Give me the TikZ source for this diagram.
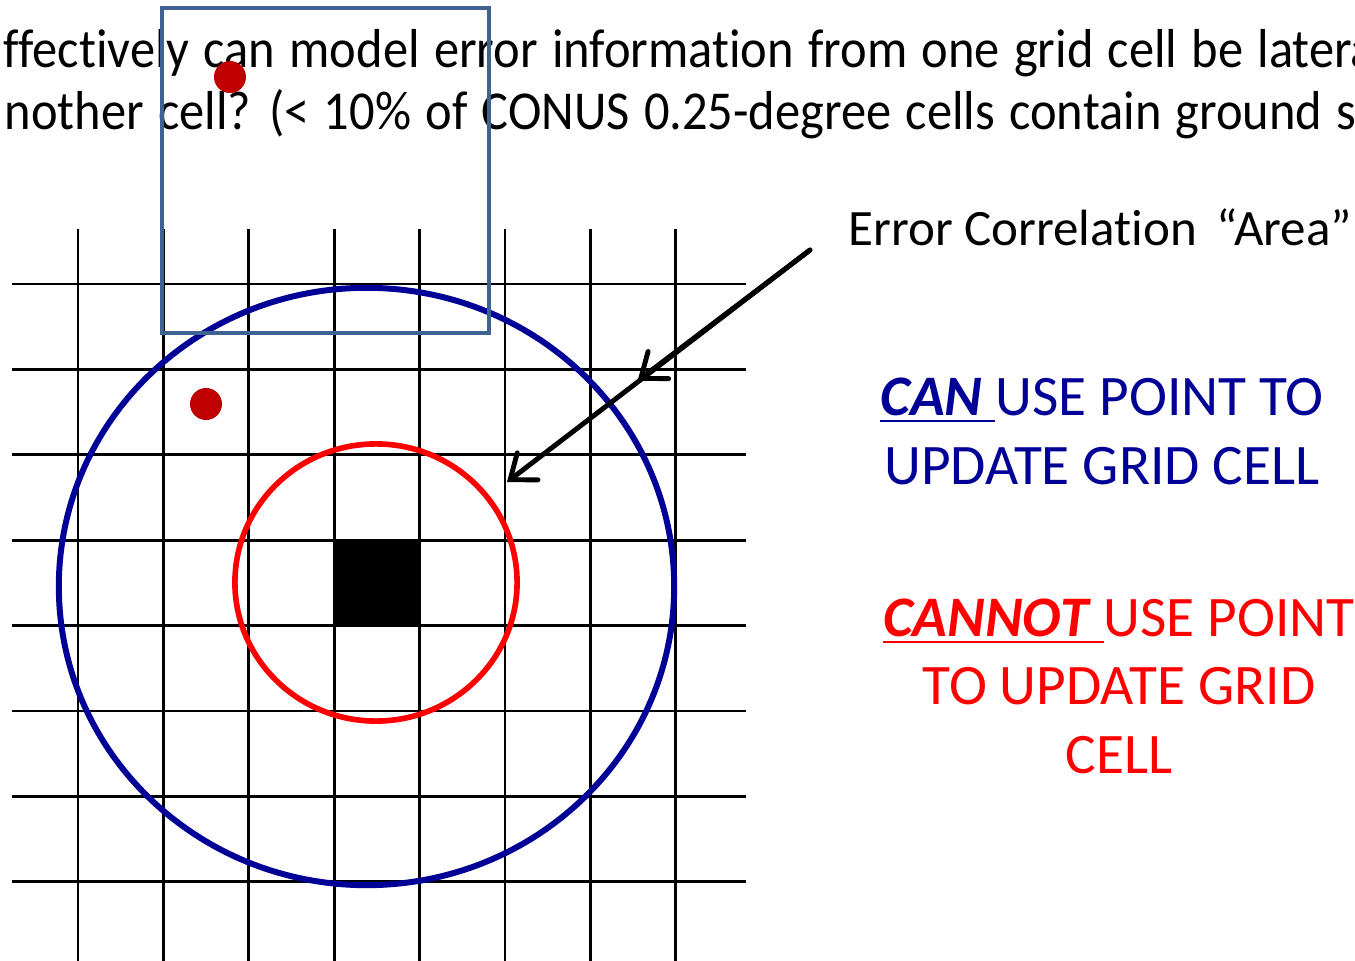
\documentclass[tikz,border=0pt]{standalone}
\usepackage{fontspec}
\setmainfont[Ligatures=NoCommon]{Carlito}
\newfontfamily\slimfont[Ligatures=NoCommon,FakeStretch=0.92,WordSpace=1.25]{Carlito}
\usepackage{tikz}
\usetikzlibrary{arrows.meta,shapes.geometric}
\definecolor{cellnavy}{RGB}{0,0,150}
\definecolor{cellred}{RGB}{255,0,0}
\definecolor{celldot}{RGB}{192,0,0}
\definecolor{cellsteel}{RGB}{62,98,145}

\begin{document}
\begin{tikzpicture}[x=0.01cm, y=-0.01cm, >={Straight Barb[length=2.2mm,width=3.4mm,line cap=round]},
  every node/.style={inner sep=0pt},
  gridline/.style={line width=0.75pt},
  ring/.style={ellipse,draw,line width=1.7pt,minimum width=#1},
  sitedot/.style={circle,fill=celldot,minimum size=0.32cm},
  bigtext/.style={font=\fontsize{16.3}{19.4}\selectfont},
  pointer/.style={->,line width=1.4pt,line cap=round}]
\useasboundingbox (0,0) rectangle (1355,961);
\clip (0,0) rectangle (1355,961);
\node[font=\slimfont\fontsize{15.6}{19}\selectfont,anchor=base west] (qline) at (3,68) {ffectively can model error information from one grid cell be latera};
\node[font=\slimfont\fontsize{15.6}{19}\selectfont,anchor=base west] (qlinetwo) at (4,130) {nother cell? (< 10\% of CONUS 0.25-degree cells contain ground si};
\foreach \i in {0,...,7} {
  \draw[gridline] (78+85.4*\i,229) -- (78+85.4*\i,961);
  \draw[gridline] (12,284+85.4*\i) -- (746,284+85.4*\i);
}
\node[fill=black,minimum size=0.854cm] (target) at (377,583) {};
\node[ring=6.15cm,draw=cellnavy,minimum height=5.97cm] (bluering) at (366.5,586.5) {};
\node[ring=2.82cm,draw=cellred,line width=1.6pt,minimum height=2.77cm] (redring) at (376,582.5) {};
\node[draw=cellsteel,line width=1.1pt,minimum width=3.27cm,minimum height=3.25cm] (window) at (325.5,170.5) {};
\node[sitedot] (sitea) at (230,77) {};
\node[sitedot] (siteb) at (206,404) {};
\node[font=\fontsize{14.5}{17}\selectfont,anchor=base west] (arealabel) at (848,246) {Error Correlation \,“Area”};
\coordinate (tail) at (810,250);
\draw[pointer,shorten >=0.33cm] (tail) -- (bluering);
\draw[pointer,shorten >=0.22cm] (tail) -- (redring);
\node[bigtext,text=cellnavy,align=center,anchor=base] (canlabel) at (1102,484) {\underline{\textbf{\textit{CAN}}\ }USE POINT TO\\UPDATE GRID CELL};
\node[bigtext,text=cellred,align=center,anchor=base] (cannotlabel) at (1119,773) {\underline{\textbf{\textit{CANNOT}}\ }USE POINT\\TO UPDATE GRID\\CELL};
\end{tikzpicture}
\end{document}
